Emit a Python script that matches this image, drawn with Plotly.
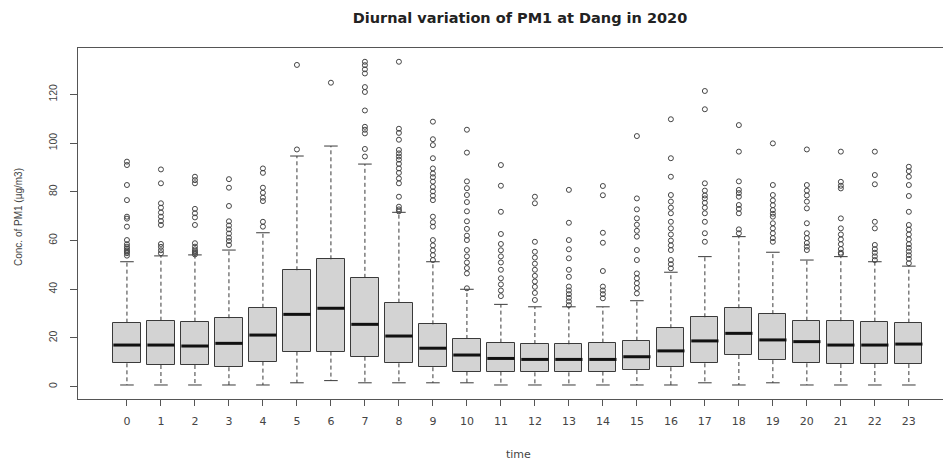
import plotly.graph_objects as go

hours = list(range(24))
q1 = [9.6, 8.9, 8.9, 8.0, 10.3, 14.4, 14.4, 12.3, 9.6, 8.0, 6.2, 6.2, 5.9, 5.9, 6.2, 6.8, 8.0, 9.6, 13.0, 10.9, 9.6, 9.3, 9.3, 9.3]
median = [17.1, 17.1, 16.7, 17.8, 21.2, 29.7, 32.2, 25.6, 20.8, 15.8, 13.0, 11.6, 11.2, 11.2, 11.2, 12.3, 14.7, 18.8, 21.9, 19.2, 18.5, 17.1, 17.1, 17.5]
q3 = [26.3, 27.1, 26.7, 28.1, 32.4, 47.8, 52.3, 44.7, 34.5, 25.6, 19.6, 18.1, 17.5, 17.4, 18.1, 18.9, 24.0, 28.5, 32.2, 29.8, 27.1, 26.9, 26.7, 26.3]
lower = [0.7, 0.7, 0.7, 0.7, 0.7, 1.6, 2.5, 1.6, 1.6, 1.6, 1.6, 0.7, 0.7, 0.7, 0.7, 0.7, 0.7, 1.6, 0.7, 1.6, 0.7, 0.7, 0.7, 0.7]
upper = [51.3, 53.7, 54.1, 56.1, 63.2, 94.7, 98.8, 91.4, 71.6, 51.3, 40.0, 33.8, 32.8, 32.8, 32.8, 35.3, 47.0, 53.4, 61.6, 55.2, 52.0, 53.4, 51.3, 49.5]
outliers = [
    [92.4, 91.0, 82.8, 76.6, 69.8, 69.0, 65.7, 60.2, 58.5, 57.5, 56.8, 56.0, 55.4, 54.8, 53.8],
    [89.2, 83.5, 75.3, 73.5, 71.5, 69.8, 68.0, 66.4, 58.6, 57.4, 56.0, 54.8],
    [86.2, 84.8, 83.5, 73.0, 71.2, 69.5, 66.4, 58.9, 57.5, 56.4, 55.6, 55.0, 54.3],
    [85.2, 81.7, 74.2, 67.9, 66.2, 64.6, 62.9, 61.2, 59.8, 58.2],
    [89.6, 87.8, 81.7, 79.6, 77.6, 76.2, 67.7, 65.7],
    [132.1, 97.4],
    [124.8],
    [133.4, 132.0, 130.3, 128.6, 123.0, 121.0, 113.4, 106.7, 105.5, 104.0, 97.6, 94.5],
    [133.4, 105.9, 104.2, 101.4, 97.2, 95.8, 94.5, 93.2, 91.5, 89.6, 87.8, 85.5, 83.5, 78.0, 73.9, 72.8, 72.0],
    [108.8, 101.6, 99.2, 93.8, 89.6, 87.5, 86.0, 84.2, 82.0, 80.2, 78.4, 76.6, 69.8, 67.5, 65.7, 60.2, 58.0, 56.0, 54.0, 52.0],
    [105.5, 96.1, 84.3, 81.5, 78.7, 75.8, 72.0, 67.9, 64.8, 62.0, 60.2, 56.1, 53.5, 51.0, 48.7, 46.5, 40.4],
    [91.0, 82.5, 71.8, 62.7, 58.6, 56.0, 53.5, 51.0, 48.0, 44.5, 42.0, 39.5, 37.2],
    [78.0, 75.3, 59.5, 55.4, 53.0, 50.5, 48.0, 45.5, 43.2, 41.0, 38.5, 35.6],
    [80.8, 67.3, 60.2, 56.4, 52.7, 48.0, 45.1, 41.1, 39.5, 38.0, 36.5, 35.0, 33.5],
    [82.4, 78.6, 63.2, 59.1, 47.5, 41.1, 39.5, 38.0, 36.3],
    [102.9, 77.3, 72.8, 69.1, 66.5, 64.0, 61.6, 56.1, 52.0, 46.5, 44.5, 42.5, 40.5, 38.3],
    [109.8, 93.8, 86.2, 78.7, 76.0, 73.5, 71.2, 67.7, 65.0, 62.5, 60.0, 58.0, 56.1, 52.0, 50.3, 48.6],
    [121.4, 113.9, 83.5, 80.5, 78.5, 77.3, 75.5, 73.5, 71.2, 67.7, 63.0, 59.5],
    [107.4, 96.5, 84.3, 80.8, 79.5, 78.0, 74.6, 73.0, 71.2, 64.6, 63.0],
    [99.9, 82.8, 78.7, 76.5, 74.5, 72.5, 71.0, 69.8, 67.1, 65.0, 63.0, 61.0, 59.5],
    [97.4, 82.8, 80.5, 78.5, 76.0, 73.2, 67.1, 63.0, 61.0, 59.0, 57.5, 56.1],
    [96.5, 84.1, 82.5, 81.4, 69.1, 65.0, 62.5, 60.5, 58.5, 56.5, 55.0, 54.5],
    [96.5, 86.9, 83.1, 67.7, 65.0, 58.2, 56.5, 55.0, 53.5, 52.0],
    [90.3, 88.5, 86.2, 82.8, 78.3, 71.8, 66.4, 64.5, 62.5, 60.5, 58.5, 57.0, 55.5, 54.0, 52.5, 50.7],
]
y_ticks = [0, 20, 40, 60, 80, 100, 120]
title_text = "Diurnal variation of PM1 at Dang in 2020"
x_title = "time"
y_title = "Conc. of PM1 (µg/m3)"

BOXW = 0.8
STAPLE = 0.2
LINE = "#3a3a3a"
FONT = "Liberation Sans, Arial, sans-serif"
WIDE = "DejaVu Sans, Liberation Sans, sans-serif"

# page body has an 8px margin: figure is shrunk and shifted to compensate
OFF = 8
W, H = 951 - OFF, 461 - OFF
L, T, B = 78 - OFF, 48 - OFF, 62
PW, PH = W - L, H - T - B

fig = go.Figure()

# whiskers (dashed)
wx, wy = [], []
for h, a, b, lo, hi in zip(hours, q1, q3, lower, upper):
    wx += [h, h, None, h, h, None]
    wy += [b, hi, None, a, lo, None]
fig.add_trace(go.Scatter(x=wx, y=wy, mode="lines",
                         line=dict(color=LINE, width=1, dash="4px,3px"),
                         hoverinfo="skip", showlegend=False))
# staples
sx, sy = [], []
for h, lo, hi in zip(hours, lower, upper):
    sx += [h - STAPLE, h + STAPLE, None, h - STAPLE, h + STAPLE, None]
    sy += [hi, hi, None, lo, lo, None]
fig.add_trace(go.Scatter(x=sx, y=sy, mode="lines",
                         line=dict(color=LINE, width=1),
                         hoverinfo="skip", showlegend=False))
# boxes
fig.add_trace(go.Bar(x=hours, y=[b - a for a, b in zip(q1, q3)], base=q1,
                     width=BOXW, marker=dict(color="#d3d3d3", line=dict(color=LINE, width=1)),
                     showlegend=False))
# medians
mx, my = [], []
for h, m in zip(hours, median):
    mx += [h - BOXW / 2, h + BOXW / 2, None]
    my += [m, m, None]
fig.add_trace(go.Scatter(x=mx, y=my, mode="lines",
                         line=dict(color="#111111", width=3),
                         hoverinfo="skip", showlegend=False))
# outliers
ox, oy = [], []
for h, vals in zip(hours, outliers):
    ox += [h] * len(vals)
    oy += vals
fig.add_trace(go.Scatter(x=ox, y=oy, mode="markers",
                         marker=dict(symbol="circle-open", size=5, color="#444444",
                                     line=dict(width=1, color="#444444")),
                         showlegend=False))

fig.update_layout(
    width=W, height=H,
    margin=dict(l=L, r=0, t=T, b=B, pad=0),
    paper_bgcolor="white", plot_bgcolor="white",
    font=dict(family=FONT, color="#444444"),
    title=dict(text="<b>" + title_text + "</b>", x=(520 - OFF) / W, xref="container",
               xanchor="center", y=1 - (18 - OFF) / H, yref="container", yanchor="middle",
               font=dict(size=14.5, color="#222222", family=WIDE)),
    bargap=0,
    xaxis=dict(range=[-1.44, 24.24], tickvals=hours, ticktext=[str(h) for h in hours],
               showline=True, mirror=True, linecolor="#555555", linewidth=1,
               ticks="outside", ticklen=6, tickcolor="#555555",
               showgrid=False, zeroline=False,
               tickfont=dict(size=11, family=WIDE, color="#444444"),
               ticklabelstandoff=6),
    yaxis=dict(range=[-5.05, 139.05], tickvals=y_ticks, ticktext=[str(v) for v in y_ticks],
               tickangle=-90,
               showline=True, mirror=False, linecolor="#555555", linewidth=1,
               ticks="outside", ticklen=7, tickcolor="#555555",
               showgrid=False, zeroline=False,
               tickfont=dict(size=10.5, color="#444444"),
               ticklabelstandoff=9),
    annotations=[
        dict(text=x_title, xref="paper", yref="paper",
             x=(518 - 78) / PW, y=(399 - 454) / PH,
             showarrow=False, font=dict(size=11, family=WIDE, color="#444444"),
             xanchor="center", yanchor="middle"),
        dict(text=y_title, xref="paper", yref="paper",
             x=(18 - 78) / PW, y=(399 - 217) / PH,
             showarrow=False, textangle=-90, font=dict(size=10, color="#444444"),
             xanchor="center", yanchor="middle"),
    ],
)

fig.write_html("out.html")
